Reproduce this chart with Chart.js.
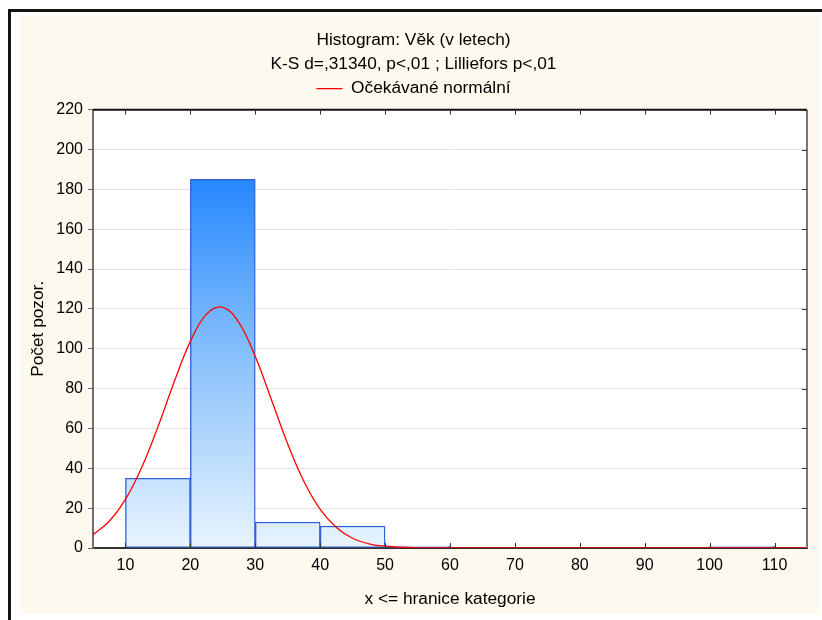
<!DOCTYPE html>
<html>
<head>
<meta charset="utf-8">
<script src="https://cdn.jsdelivr.net/npm/chart.js@4.4.1/dist/chart.umd.min.js"></script>
<style>
  body { margin: 0; background: #fff; }
  #frame { position: absolute; left: 8px; top: 9px; width: 814px; height: 611px;
           border-left: 3px solid #151515; border-top: 3px solid #151515; }
  #box { position: absolute; left: 20px; top: 15px; width: 800px; height: 599px; background: #fdf9ee; }
</style>
</head>
<body>
<div id="frame"></div>
<div id="box"><canvas id="histChart" width="800" height="599"></canvas></div>
<script>
// histogram bins (lower edge) and counts
var binStarts = [10, 20, 30, 40, 50, 60, 70, 80, 90, 100];
var counts = [35, 185, 13, 11, 1, 0, 0, 0, 0, 1];
var binWidth = 10;

// expected normal curve
var curveX = [5, 7.5, 10, 12.5, 15, 17.5, 20, 22.5, 25, 27.5, 30, 32.5, 35, 37.5, 40, 42.5, 45, 47.5, 50, 55, 60, 115];
var curveY = [6.7, 13.4, 24.4, 40.4, 60.8, 83.3, 103.7, 117.4, 120.8, 113, 96.1, 74.3, 52.2, 33.4, 19.4, 10.3, 4.9, 2.1, 0.9, 0.1, 0, 0];

var xTicks = [10, 20, 30, 40, 50, 60, 70, 80, 90, 100, 110];
var xMin = 5, xMax = 115;
var yMax = 220, yStep = 20;

Chart.defaults.font.family = '"Liberation Sans", Arial, sans-serif';
Chart.defaults.font.size = 17.3;
Chart.defaults.color = '#000';

var barData = [];
counts.forEach(function(c, i) {
  if (c > 0) barData.push({ x: binStarts[i] + binWidth / 2, y: c });
});
var curveData = curveX.map(function(x, i) { return { x: x, y: curveY[i] }; });

var plotFrame = {
  id: 'plotFrame',
  beforeLayout: function(chart) {
    // a bit more room between legend and plot
    var lg = chart.legend;
    if (lg && !lg._extraGap) {
      var fit = lg.fit;
      lg.fit = function() { fit.apply(this, arguments); this.height += 2.4; };
      lg._extraGap = true;
    }
  },
  beforeDraw: function(chart) {
    var a = chart.chartArea, c = chart.ctx;
    c.save();
    c.fillStyle = '#fff';
    c.fillRect(a.left, a.top, a.right - a.left, a.bottom - a.top);
    c.restore();
  },
  afterDraw: function(chart) {
    var a = chart.chartArea, c = chart.ctx;
    var xs = chart.scales.x, ys = chart.scales.y;
    c.save();
    c.lineWidth = 2;
    c.strokeStyle = '#111';
    c.beginPath(); c.moveTo(a.left, a.top); c.lineTo(a.right, a.top); c.stroke();
    c.strokeStyle = '#777';
    c.beginPath(); c.moveTo(a.right, a.top); c.lineTo(a.right, a.bottom); c.stroke();
    // inner tick marks
    c.lineWidth = 1;
    c.strokeStyle = '#333';
    xTicks.forEach(function(v) {
      var px = Math.round(xs.getPixelForValue(v)) + 0.5;
      c.beginPath(); c.moveTo(px, a.bottom); c.lineTo(px, a.bottom - 5); c.stroke();
      c.beginPath(); c.moveTo(px, a.top); c.lineTo(px, a.top + 5); c.stroke();
    });
    for (var v = 0; v <= yMax; v += yStep) {
      var py = Math.round(ys.getPixelForValue(v)) + 0.5;
      c.beginPath(); c.moveTo(a.right, py); c.lineTo(a.right - 5, py); c.stroke();
    }
    c.restore();
  }
};

var ctx = document.getElementById('histChart').getContext('2d');
var histChart = new Chart(ctx, {
  data: {
    datasets: [
      {
        type: 'bar',
        label: 'Věk',
        data: barData,
        order: 1,
        backgroundColor: function(context) {
          var chart = context.chart;
          if (!chart.chartArea) return '#8cc3fb';
          var ys = chart.scales.y;
          var g = chart.ctx.createLinearGradient(0, ys.getPixelForValue(0), 0, ys.getPixelForValue(Math.max.apply(null, counts)));
          g.addColorStop(0, '#e9f4fe');
          g.addColorStop(0.5, '#8cc3fb');
          g.addColorStop(1, '#2688fe');
          return g;
        },
        borderColor: '#2f62d6',
        borderWidth: 1.4,
        borderSkipped: false,
        barPercentage: 1,
        categoryPercentage: 1,
        grouped: false
      },
      {
        type: 'line',
        label: 'Očekávané normální',
        data: curveData,
        order: 0,
        borderColor: '#ff0000',
        borderWidth: 1.3,
        pointRadius: 0,
        fill: false,
        tension: 0.4
      }
    ]
  },
  options: {
    responsive: false,
    animation: false,
    layout: { padding: { left: 0, right: 13, top: 0, bottom: 0 } },
    plugins: {
      title: {
        display: true,
        text: 'Histogram: Věk (v letech)',
        font: { size: 17.3, weight: 'normal' },
        padding: { top: 14.6, bottom: 3.26 }
      },
      subtitle: {
        display: true,
        text: 'K-S d=,31340, p<,01 ; Lilliefors p<,01',
        font: { size: 17.3 },
        color: '#000',
        padding: { top: 0, bottom: 2.57 }
      },
      legend: {
        display: true,
        labels: {
          usePointStyle: true,
          pointStyle: 'line',
          pointStyleWidth: 26,
          padding: 3,
          font: { size: 17.3 },
          filter: function(item) { return item.datasetIndex === 1; }
        }
      },
      tooltip: { enabled: false }
    },
    scales: {
      x: {
        type: 'linear',
        min: xMin,
        max: xMax,
        offset: false,
        afterBuildTicks: function(scale) {
          scale.ticks = xTicks.map(function(v) { return { value: v }; });
        },
        afterFit: function(scale) { scale.height = 66; },
        grid: { display: false, offset: false },
        border: { color: '#303030', width: 2 },
        ticks: { padding: 0, maxRotation: 0, font: { size: 16 } },
        title: { display: true, text: 'x <= hranice kategorie', padding: { top: 0, bottom: 4 } }
      },
      y: {
        min: 0,
        max: yMax,
        ticks: { stepSize: yStep, padding: 5, font: { size: 16 } },
        afterFit: function(scale) { scale.width = 73; },
        grid: { color: '#e2e2e2', tickColor: '#666', tickLength: 5 },
        border: { color: '#6e6e6e', width: 2 },
        title: { display: true, text: 'Počet pozor.', padding: { top: 7.6, bottom: 0 } }
      }
    }
  },
  plugins: [plotFrame]
});
</script>
</body>
</html>
